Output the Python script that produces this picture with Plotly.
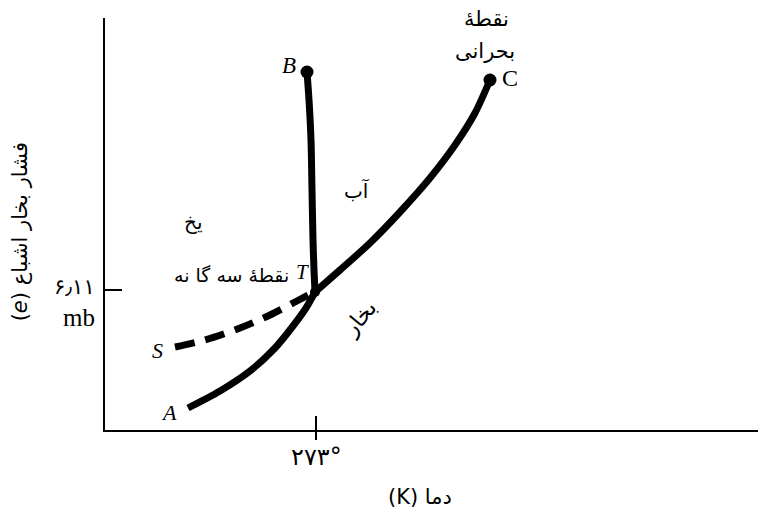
import plotly.graph_objects as go

# Phase diagram of water (schematic) in arbitrary plotting units
# x: temperature axis, y: saturation vapour pressure axis
sub_x = [83, 115, 145, 170, 188, 201, 210]            # A -> T (ice / vapour)
sub_y = [22, 39, 59, 82, 104, 122, 138]
vap_x = [210, 235, 265, 295, 325, 350, 370, 385]      # T -> C (water / vapour)
vap_y = [138, 160, 187, 218, 252, 285, 317, 350]
mel_x = [210, 209, 208, 207, 206, 204, 202]           # T -> B (ice / water)
mel_y = [138, 160, 190, 240, 290, 330, 358]
sup_x = [70, 100, 135, 165, 190, 207]                 # S -> T (supercooled water)
sup_y = [83, 90, 102, 115, 128, 137]

x_tick_val = [211]
x_tick_txt = ["۲۷۳°"]
y_tick_val = [140]
y_tick_txt = ["۶٫۱۱", "mb"]

RLE, PDF = "\u202B", "\u202C"   # force right-to-left order for mixed titles
x_title = RLE + "دما (K)" + PDF
y_title = RLE + "فشار بخار اشباع (<i>e</i>)" + PDF

serif = "Liberation Serif, DejaVu Serif, serif"
fa = "DejaVu Sans, sans-serif"

fig = go.Figure()
line = dict(color="black", width=7, shape="spline", smoothing=0.8)
fig.add_trace(go.Scatter(x=sub_x, y=sub_y, mode="lines", line=line, hoverinfo="skip"))
fig.add_trace(go.Scatter(x=vap_x, y=vap_y, mode="lines", line=line, hoverinfo="skip"))
fig.add_trace(go.Scatter(x=mel_x, y=mel_y, mode="lines", line=line, hoverinfo="skip"))
fig.add_trace(go.Scatter(x=sup_x, y=sup_y, mode="lines",
                         line=dict(line, dash="20px,11px"), hoverinfo="skip"))
# end points B, C and triple point T
fig.add_trace(go.Scatter(x=[mel_x[-1], vap_x[-1], sub_x[-1]], y=[mel_y[-1], vap_y[-1], sub_y[-1]],
                         mode="markers", hoverinfo="skip",
                         marker=dict(color="black", opacity=1, size=[13, 13, 10], line=dict(width=0))))

ann = []
def label(x, y, text, size=20, font=fa, angle=0, xref="x", yref="y", xanchor="center", **kw):
    ann.append(dict(x=x, y=y, xref=xref, yref=yref, text=text, showarrow=False, textangle=angle,
                    xanchor=xanchor, yanchor="middle",
                    font=dict(family=font, size=size, color="black"), **kw))

label(mel_x[-1] - 18, mel_y[-1] + 7, "<i>B</i>", 23, serif)
label(vap_x[-1] + 20, vap_y[-1] + 2, "C", 24, serif)
label(sub_x[-1] - 13, sub_y[-1] + 20, "<i>T</i>", 21, serif)
label(sup_x[0] - 18, sup_y[0] - 3, "<i>S</i>", 22, serif)
label(sub_x[0] - 19, sub_y[0] - 4, "<i>A</i>", 22, serif)
label(126, 155, "نقطهٔ سه گا نه", 19)
label(88, 208, "یخ", 20)
label(252, 240, "آب", 20)
label(254, 112, "بخار", 22, angle=-50)
label(381, 411, "نقطهٔ", 21)
label(380, 379, "بحرانی", 21)

# axis tick labels and titles
label(-0.012, y_tick_val[0] + 3, y_tick_txt[0], 21, xref="paper", xanchor="right")
label(-0.013, y_tick_val[0] - 27, y_tick_txt[1], 25, serif, xref="paper", xanchor="right")
label(x_tick_val[0], -0.066, x_tick_txt[0], 24, yref="paper")
label(0.482, -0.163, x_title, 21, xref="paper", yref="paper")
label(-0.130, 0.48, y_title, 21, angle=-90, xref="paper", yref="paper")

fig.update_layout(
    width=758, height=518,
    margin=dict(l=105, r=0, t=18, b=88),
    paper_bgcolor="white", plot_bgcolor="white",
    showlegend=False,
    annotations=ann,
    xaxis=dict(range=[0, 653], showgrid=False, zeroline=False, showline=True, linecolor="black",
               linewidth=2, tickvals=x_tick_val, ticktext=[""], ticks="outside", ticklen=8,
               tickwidth=2, tickcolor="black"),
    xaxis2=dict(range=[0, 653], overlaying="x", showgrid=False, zeroline=False, showline=False,
                tickvals=x_tick_val, ticktext=[""], ticks="inside", ticklen=14, tickwidth=2,
                tickcolor="black", side="bottom"),
    yaxis=dict(range=[0, 412], showgrid=False, zeroline=False, showline=True, linecolor="black",
               linewidth=2, tickvals=y_tick_val, ticktext=[""], ticks="inside", ticklen=17,
               tickwidth=2, tickcolor="black"),
)
# invisible trace carrying the second x axis (tick drawn across the axis line)
fig.add_trace(go.Scatter(x=[None], y=[None], xaxis="x2", hoverinfo="skip"))

fig.write_html("out.html")
